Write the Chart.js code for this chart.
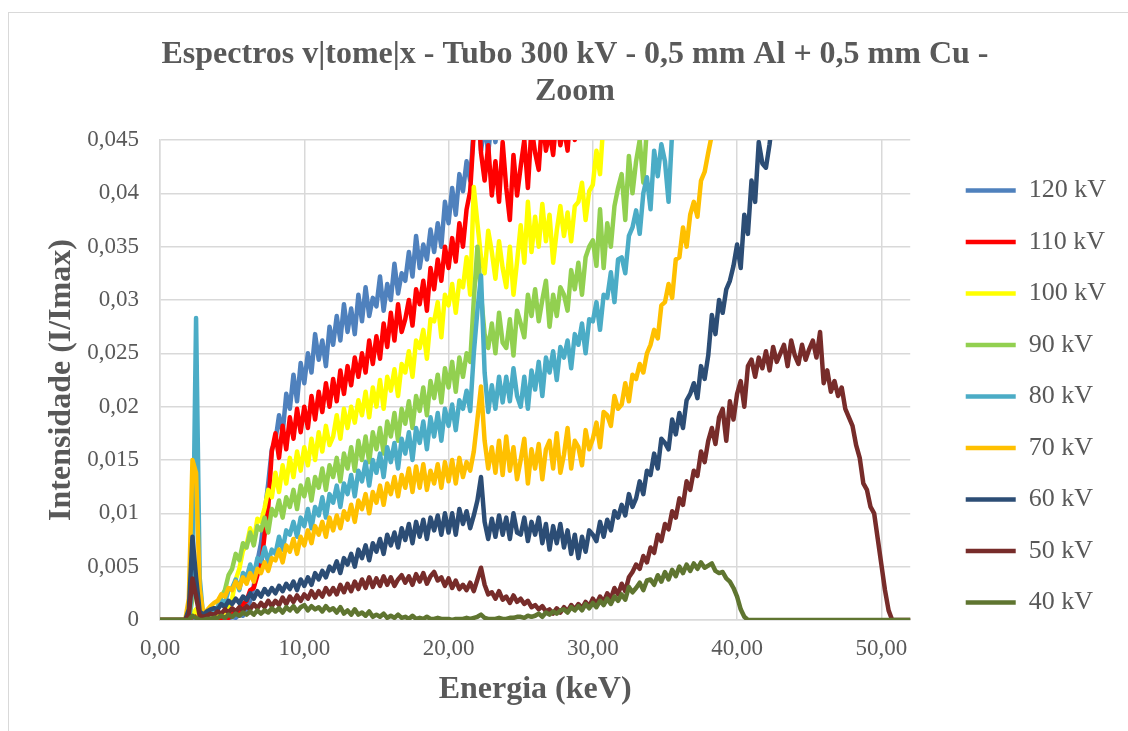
<!DOCTYPE html>
<html lang="pt">
<head>
<meta charset="utf-8">
<title>Espectros v|tome|x - Tubo 300 kV</title>
<script src="https://cdn.jsdelivr.net/npm/chart.js@4.4.1/dist/chart.umd.min.js"></script>
<style>
  html, body { margin:0; padding:0; background:#fff; overflow:hidden; }
  #wrap { position:relative; width:1128px; height:731px; }
</style>
</head>
<body>
<div id="wrap"><canvas id="grafico" width="1128" height="731"></canvas></div>
<script>
'use strict';

// Energia (keV), passo 0,25 — uma linha = 4 keV
const energia = [
  0,0.25,0.5,0.75,1,1.25,1.5,1.75,2,2.25,2.5,2.75,3,3.25,3.5,3.75,
  4,4.25,4.5,4.75,5,5.25,5.5,5.75,6,6.25,6.5,6.75,7,7.25,7.5,7.75,
  8,8.25,8.5,8.75,9,9.25,9.5,9.75,10,10.25,10.5,10.75,11,11.25,11.5,11.75,
  12,12.25,12.5,12.75,13,13.25,13.5,13.75,14,14.25,14.5,14.75,15,15.25,15.5,15.75,
  16,16.25,16.5,16.75,17,17.25,17.5,17.75,18,18.25,18.5,18.75,19,19.25,19.5,19.75,
  20,20.25,20.5,20.75,21,21.25,21.5,21.75,22,22.25,22.5,22.75,23,23.25,23.5,23.75,
  24,24.25,24.5,24.75,25,25.25,25.5,25.75,26,26.25,26.5,26.75,27,27.25,27.5,27.75,
  28,28.25,28.5,28.75,29,29.25,29.5,29.75,30,30.25,30.5,30.75,31,31.25,31.5,31.75,
  32,32.25,32.5,32.75,33,33.25,33.5,33.75,34,34.25,34.5,34.75,35,35.25,35.5,35.75,
  36,36.25,36.5,36.75,37,37.25,37.5,37.75,38,38.25,38.5,38.75,39,39.25,39.5,39.75,
  40,40.25,40.5,40.75,41,41.25,41.5,41.75,42,42.25,42.5,42.75,43,43.25,43.5,43.75,
  44,44.25,44.5,44.75,45,45.25,45.5,45.75,46,46.25,46.5,46.75,47,47.25,47.5,47.75,
  48,48.25,48.5,48.75,49,49.25,49.5,49.75,50,50.25,50.5,50.75,51,51.25,51.5,51.75,
  52
];

// Intensidade em unidades de 1e-4 (I/Imax); fim do array = curva sai do topo
const ESCALA = 1e-4;

const kv40 = [
  0,0,0,0, 0,0,0,0, 0,4,2,0, 0,1,1,2,
  2,4,2,5, 3,6,4,7, 5,8,5,9, 6,9,7,11,
  8,11,7,12, 9,13,8,12, 14,9,13,10, 12,8,13,9,
  11,7,12,6, 9,5,10,5, 7,4,8,3, 5,3,6,2,
  4,2,5,2, 3,1,4,1, 2,1,3,1, 1,2,1,1,
  1,0,1,1, 1,2,1,2, 3,5,2,1, 1,1,2,1,
  1,2,2,3, 3,2,4,3, 4,6,3,7, 5,8,6,9,
  10,7,12,9, 13,9,15,11, 16,12,18,14, 20,15,22,18,
  24,19,31,26, 30,35,28,37, 38,33,42,36, 45,38,47,41,
  50,44,52,46, 53,48,54,49, 51,53,46,44, 45,39,36,30,
  22,10,3,0, 0,0,0,0, 0,0,0,0, 0,0,0,0,
  0,0,0,0, 0,0,0,0, 0,0,0,0, 0,0,0,0,
  0,0,0,0, 0,0,0,0, 0,0,0,0, 0,0,0,0,
  0
];
const kv50 = [
  0,0,0,0, 0,0,0,0, 5,39,22,4, 3,4,6,5,
  8,6,10,7, 11,8,12,9, 13,10,15,11, 16,12,18,13,
  18,14,21,15, 22,17,23,18, 24,20,27,21, 27,22,30,24,
  30,24,33,26, 34,27,36,29, 38,30,40,31, 39,32,41,33,
  40,32,38,42, 35,41,33,43, 36,44,34,41, 45,37,40,32,
  39,30,37,29, 33,28,35,27, 38,49,33,24, 26,20,27,19,
  22,16,23,17, 20,15,18,12, 14,10,13,8, 10,6,11,7,
  12,8,14,10, 15,11,17,13, 20,15,22,17, 25,20,30,24,
  34,27,40,45, 52,48,60,54, 68,63,80,74, 90,85,102,96,
  114,108,130,122, 140,135,158,148, 168,180,165,190, 198,168,205,188,
  212,224,200,238, 244,228,246,236, 252,234,256,242, 250,258,238,262,
  248,240,258,244, 254,262,246,270, 222,234,214,224, 210,218,198,190,
  182,164,152,128, 122,106,100,76, 52,28,9,0, 0,0,0,0,
  0
];
const kv60 = [
  0,0,0,0, 0,0,0,0, 10,78,40,8, 5,8,10,11,
  10,15,12,18, 15,20,16,22, 19,25,20,27, 22,29,24,30,
  25,32,27,34, 29,36,28,38, 32,40,33,44, 38,46,40,50,
  46,55,44,58, 52,62,50,66, 58,70,56,72, 64,76,62,80,
  70,82,68,86, 75,90,72,92, 78,94,76,96, 84,98,80,100,
  82,100,80,104, 90,102,86,98, 112,134,92,76, 95,78,98,80,
  96,76,100,82, 80,96,74,92, 80,96,72,90, 66,88,72,90,
  68,84,62,80, 58,78,64,84, 80,74,92,78, 94,84,102,96,
  108,98,118,106, 114,130,118,140, 136,156,142,170, 166,160,188,174,
  194,180,206,212, 222,208,238,226, 248,286,268,300, 288,310,318,332,
  352,330,380,362, 412,392,448,428, 424,446,475
];
const kv70 = [
  0,0,0,0, 0,0,0,0, 20,150,138,30, 5,9,13,16,
  18,24,22,30, 28,36,30,40, 34,44,36,48, 44,54,46,58,
  56,66,54,70, 64,76,62,78, 70,84,72,88, 80,92,78,96,
  84,98,86,102, 94,108,92,112, 104,118,100,120, 110,126,108,128,
  118,134,116,136, 124,142,120,144, 124,146,122,140, 128,146,124,148,
  130,150,128,152, 134,148,140,158, 188,219,168,142, 162,138,168,136,
  172,140,162,132, 150,170,128,160, 142,165,132,160, 168,142,175,138,
  155,180,142,168, 162,145,178,160, 170,185,162,195, 192,182,210,198,
  202,222,205,230, 226,240,232,250, 258,272,264,295, 298,315,302,338,
  340,368,350,380, 392,378,412,420, 438,455,480
];
const kv80 = [
  0,0,0,0, 0,0,0,0, 0,30,283,40, 2,4,6,9,
  12,18,16,28, 30,38,28,44, 40,52,42,58, 55,68,54,66,
  62,78,66,84, 80,92,78,96, 88,104,86,106, 98,115,96,118,
  110,126,106,128, 118,136,116,140, 130,148,126,150, 138,156,134,162,
  148,166,142,170, 156,176,150,180, 166,186,160,190, 172,194,168,198,
  182,202,178,206, 198,215,196,250, 290,323,232,195, 220,198,228,204,
  228,205,236,210, 200,228,198,234, 216,242,210,246, 232,252,225,256,
  246,262,236,268, 258,278,250,282, 280,298,272,305, 302,326,298,338,
  340,325,360,368, 384,362,400,415, 385,440,416,446, 430,392,458,490
];
const kv90 = [
  0,0,0,0, 0,0,0,0, 0,20,30,8, 0,1,3,6,
  12,22,28,42, 48,62,56,72, 68,82,70,88, 84,96,82,104,
  98,112,96,115, 106,122,104,126, 116,132,112,134, 124,142,122,145,
  134,152,130,156, 142,162,140,168, 150,172,148,176, 160,180,156,186,
  172,194,168,198, 184,205,180,210, 196,218,192,224, 208,230,204,236,
  218,242,214,246, 228,250,242,300, 350,305,268,255, 278,250,288,260,
  255,282,248,290, 278,265,305,285, 310,280,300,318, 275,305,285,312,
  305,290,328,310, 335,305,340,350, 356,332,385,330, 372,350,388,405,
  418,375,435,400, 430,450,410,462, 485
];
const kv100 = [
  0,0,0,0, 0,0,0,0, 0,5,10,3, 0,1,2,2,
  3,5,8,12, 20,38,48,65, 70,86,74,95, 92,105,122,115,
  138,120,145,128, 152,134,158,140, 162,145,170,150, 176,158,182,164,
  172,192,170,198, 180,200,185,206, 192,214,190,218, 200,225,198,228,
  215,235,210,240, 232,252,228,262, 255,272,245,282, 280,298,265,305,
  295,315,288,318, 312,340,305,406, 372,340,325,365, 345,320,355,330,
  312,350,305,336, 370,335,392,345, 378,350,390,355, 380,335,365,388,
  360,382,355,388, 392,410,375,402, 408,440,418,470
];
const kv110 = [
  0,0,0,0, 0,0,0,0, 0,3,5,2, 0,0,1,1,
  1,2,3,2, 5,9,8,15, 18,28,30,42, 50,80,105,158,
  175,152,182,160, 190,170,198,176, 200,180,210,188, 214,195,222,200,
  226,205,234,212, 238,220,246,228, 250,232,262,240, 266,245,278,256,
  288,262,296,270, 282,300,276,310, 296,318,290,330, 310,338,318,350,
  330,358,336,372, 350,385,402,458, 500,438,412,445, 398,430,392,448,
  405,375,436,398, 425,450,405,462, 438,422,472,440, 458,436,474,445,
  462,440,485,450, 472,455,495
];
const kv120 = [
  0,0,0,0, 0,0,0,0, 0,0,0,0, 0,0,0,0,
  0,1,2,1, 3,2,5,4, 10,18,32,55, 72,100,128,160,
  168,192,175,212, 198,230,205,241, 222,250,232,268, 244,262,238,275,
  258,285,262,296, 270,292,268,305, 280,312,285,302, 294,322,290,315,
  300,334,306,325, 318,345,322,360, 330,352,338,366, 345,372,350,392,
  372,405,380,418, 402,430,412,462, 485,440,465,438, 470,448,478,452,
  462,490,455,500
];

// 40 kV primeiro = desenhado por cima; legenda invertida
const series = [
  { label: '40 kV',  cor: '#5f7530', valores: kv40 },
  { label: '50 kV',  cor: '#772c2a', valores: kv50 },
  { label: '60 kV',  cor: '#2c4d75', valores: kv60 },
  { label: '70 kV',  cor: '#ffc000', valores: kv70 },
  { label: '80 kV',  cor: '#4bacc6', valores: kv80 },
  { label: '90 kV',  cor: '#92d050', valores: kv90 },
  { label: '100 kV', cor: '#ffff00', valores: kv100 },
  { label: '110 kV', cor: '#ff0000', valores: kv110 },
  { label: '120 kV', cor: '#4f81bd', valores: kv120 },
];

const FONTE = "'Liberation Serif', 'Times New Roman', serif";
const CINZA = '#595959';
const GRADE = '#d9d9d9';

const moldura = {
  id: 'moldura',
  beforeDraw(chart) {
    const c = chart.ctx;
    c.save();
    c.fillStyle = '#fff';
    c.fillRect(0, 0, chart.width, chart.height);
    c.strokeStyle = GRADE;
    c.lineWidth = 1;
    c.strokeRect(8.5, 12.5, chart.width, chart.height);
    c.restore();
  }
};

const datasets = series.map(s => ({
  label: s.label,
  data: energia.map((e, i) => ({ x: e, y: s.valores[i] == null ? null : s.valores[i] * ESCALA })),
  borderColor: s.cor,
  backgroundColor: s.cor,
  borderWidth: 4.5,
  borderCapStyle: 'round',
  borderJoinStyle: 'round',
  pointRadius: 0,
  tension: 0,
  xAxisID: 'x',
  yAxisID: 'y',
}));

new Chart(document.getElementById('grafico'), {
  type: 'line',
  data: { datasets },
  plugins: [moldura],
  options: {
    responsive: false,
    animation: false,
    devicePixelRatio: 1,
    events: [],
    layout: { padding: { left: 34, right: 12, top: 14, bottom: 8 } },
    plugins: {
      tooltip: { enabled: false },
      title: {
        display: true,
        text: ['Espectros v|tome|x - Tubo 300 kV - 0,5 mm Al + 0,5 mm Cu -', 'Zoom'],
        color: CINZA,
        font: { family: FONTE, size: 32, weight: 'bold', lineHeight: 1.156 },
        padding: { top: 22.5, bottom: 29.5 },
      },
      legend: {
        position: 'right',
        align: 'start',
        reverse: true,
        title: { display: true, text: ' ', font: { size: 1, lineHeight: 1 }, padding: { top: 0, bottom: 137 } },
        labels: {
          usePointStyle: true,
          pointStyle: 'line',
          pointStyleWidth: 50,
          padding: 25.5,
          color: CINZA,
          font: { family: FONTE, size: 26 },
        },
      },
    },
    scales: {
      x: {
        type: 'linear',
        min: 0,
        max: 52,
        afterFit: s => { s.height = 103; },
        ticks: {
          stepSize: 10,
          includeBounds: false,
          maxRotation: 0,
          padding: 15,
          color: CINZA,
          font: { family: FONTE, size: 23 },
          callback: v => v.toFixed(2).replace('.', ','),
        },
        grid: { color: GRADE, lineWidth: 1.5, drawTicks: false },
        border: { color: GRADE, width: 1.5 },
        title: {
          display: true,
          text: 'Energia (keV)',
          color: CINZA,
          font: { family: FONTE, size: 32, weight: 'bold', lineHeight: 1.15 },
          padding: { top: 0, bottom: 15 },
        },
      },
      y: {
        type: 'linear',
        min: 0,
        max: 0.045,
        afterFit: s => { s.width = 126; },
        ticks: {
          stepSize: 0.005,
          padding: 21,
          color: CINZA,
          font: { family: FONTE, size: 23 },
          callback: v => String(Math.round(v * 1000) / 1000).replace('.', ','),
        },
        grid: { color: GRADE, lineWidth: 1.5, drawTicks: false },
        border: { color: GRADE, width: 1.5 },
        title: {
          display: true,
          text: 'Intensidade (I/Imax)',
          color: CINZA,
          font: { family: FONTE, size: 32, weight: 'bold', lineHeight: 1.15 },
          padding: { top: 9, bottom: 0 },
        },
      },
      // espaço vazio entre o gráfico e a legenda
      margemDir: {
        type: 'linear',
        position: 'right',
        display: true,
        afterFit: s => { s.width = 30; },
        ticks: { display: false },
        grid: { display: false, drawTicks: false },
        border: { display: false },
      },
    },
  },
});
</script>
</body>
</html>
